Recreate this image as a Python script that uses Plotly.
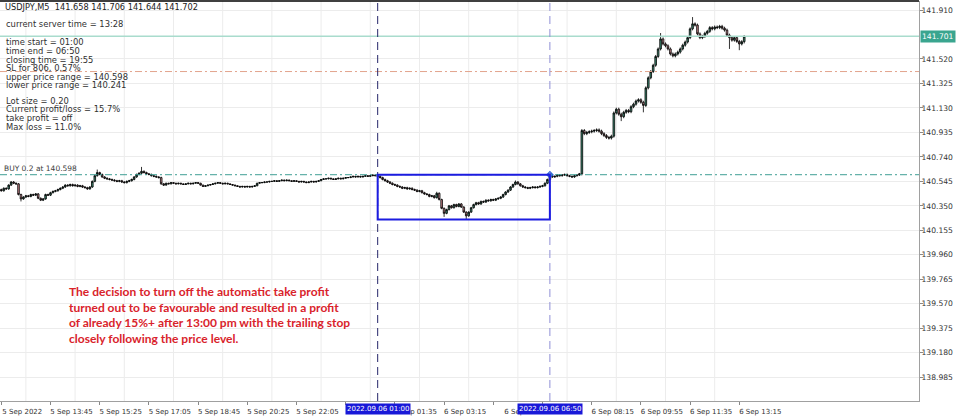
import pandas as pd
import plotly.graph_objects as go

# ---------------- data ----------------
bar_times = [t.strftime("%Y.%m.%d %H:%M") for t in
             list(pd.date_range("2022-09-05 12:05", "2022-09-05 23:50", freq="5min")) +
             list(pd.date_range("2022-09-06 00:05", "2022-09-06 13:25", freq="5min"))]

opens = [
    140.480, 140.470, 140.490, 140.485, 140.515, 140.540, 140.530, 140.525, 140.440, 140.405,
    140.420, 140.430, 140.425, 140.440, 140.435, 140.445, 140.410, 140.395, 140.405, 140.440,
    140.435, 140.455, 140.465, 140.470, 140.480, 140.490, 140.500, 140.515, 140.510, 140.520,
    140.510, 140.515, 140.505, 140.510, 140.500, 140.495, 140.485, 140.500, 140.545, 140.590,
    140.615, 140.600, 140.580, 140.570, 140.565, 140.560, 140.555, 140.550, 140.545, 140.550,
    140.540, 140.535, 140.545, 140.550, 140.560, 140.580, 140.600, 140.610, 140.625, 140.615,
    140.605, 140.600, 140.590, 140.585, 140.580, 140.575, 140.525, 140.515, 140.530, 140.525,
    140.535, 140.530, 140.525, 140.530, 140.525, 140.520, 140.525, 140.530, 140.525, 140.530,
    140.535, 140.530, 140.515, 140.505, 140.510, 140.515, 140.520, 140.525, 140.530, 140.535,
    140.530, 140.525, 140.530, 140.525, 140.520, 140.515, 140.510, 140.505, 140.500, 140.505,
    140.500, 140.505, 140.500, 140.505, 140.510, 140.530, 140.535, 140.535, 140.540, 140.540,
    140.545, 140.545, 140.550, 140.545, 140.550, 140.555, 140.550, 140.555, 140.550, 140.545,
    140.550, 140.545, 140.540, 140.545, 140.540, 140.535, 140.540, 140.545, 140.540, 140.545,
    140.550, 140.560, 140.565, 140.565, 140.570, 140.565, 140.560, 140.565, 140.570, 140.565,
    140.570, 140.575, 140.575, 140.580, 140.585, 140.580, 140.585, 140.580, 140.585, 140.590,
    140.585, 140.590, 140.595, 140.590, 140.585, 140.575, 140.560, 140.550, 140.540, 140.530,
    140.520, 140.515, 140.505, 140.500, 140.490, 140.495, 140.485, 140.490, 140.480, 140.475,
    140.465, 140.470, 140.455, 140.445, 140.440, 140.425, 140.430, 140.415, 140.450, 140.400,
    140.330, 140.290, 140.320, 140.350, 140.335, 140.360, 140.345, 140.365, 140.340, 140.300,
    140.270, 140.300, 140.335, 140.360, 140.375, 140.365, 140.385, 140.380, 140.395, 140.390,
    140.400, 140.395, 140.405, 140.410, 140.420, 140.440, 140.460, 140.475, 140.500, 140.520,
    140.540, 140.525, 140.510, 140.500, 140.495, 140.490, 140.495, 140.500, 140.495, 140.500,
    140.505, 140.510, 140.530, 140.560, 140.590, 140.580, 140.585, 140.595, 140.590, 140.595,
    140.600, 140.590, 140.585, 140.580, 140.590, 140.595, 140.605, 140.950, 140.925, 140.935,
    140.940, 140.945, 140.950, 140.955, 140.945, 140.925, 140.910, 140.895, 140.890, 140.905,
    141.090, 141.120, 141.080, 141.060, 141.095, 141.110, 141.100, 141.140, 141.160, 141.185,
    141.195, 141.175, 141.150, 141.290, 141.370, 141.420, 141.470, 141.540, 141.600, 141.680,
    141.640, 141.625, 141.600, 141.560, 141.545, 141.560, 141.575, 141.600, 141.630, 141.655,
    141.690, 141.760, 141.800, 141.790, 141.720, 141.690, 141.700, 141.725, 141.740, 141.770,
    141.760, 141.775, 141.770, 141.780, 141.765, 141.750, 141.710, 141.690, 141.670, 141.690,
    141.660, 141.640, 141.658,
]

highs = [
    140.487, 140.497, 140.497, 140.522, 140.547, 140.547, 140.537, 140.532, 140.447, 140.427,
    140.437, 140.437, 140.447, 140.447, 140.452, 140.452, 140.417, 140.412, 140.447, 140.447,
    140.462, 140.472, 140.477, 140.487, 140.497, 140.507, 140.522, 140.522, 140.527, 140.527,
    140.522, 140.522, 140.517, 140.517, 140.507, 140.502, 140.507, 140.552, 140.597, 140.639,
    140.622, 140.607, 140.587, 140.577, 140.572, 140.567, 140.562, 140.557, 140.557, 140.557,
    140.547, 140.552, 140.557, 140.567, 140.587, 140.607, 140.617, 140.660, 140.632, 140.622,
    140.612, 140.607, 140.597, 140.592, 140.587, 140.582, 140.532, 140.534, 140.534, 140.539,
    140.539, 140.534, 140.534, 140.534, 140.529, 140.529, 140.534, 140.534, 140.534, 140.539,
    140.539, 140.534, 140.519, 140.514, 140.519, 140.524, 140.529, 140.534, 140.539, 140.539,
    140.534, 140.534, 140.534, 140.529, 140.524, 140.519, 140.514, 140.509, 140.509, 140.509,
    140.509, 140.509, 140.509, 140.514, 140.534, 140.539, 140.539, 140.544, 140.544, 140.549,
    140.549, 140.554, 140.554, 140.554, 140.559, 140.559, 140.559, 140.559, 140.554, 140.554,
    140.554, 140.549, 140.549, 140.549, 140.544, 140.544, 140.549, 140.549, 140.549, 140.554,
    140.564, 140.569, 140.569, 140.574, 140.574, 140.569, 140.569, 140.574, 140.574, 140.574,
    140.579, 140.579, 140.584, 140.589, 140.589, 140.589, 140.589, 140.589, 140.594, 140.594,
    140.594, 140.599, 140.599, 140.596, 140.592, 140.582, 140.567, 140.557, 140.547, 140.537,
    140.527, 140.522, 140.512, 140.507, 140.502, 140.502, 140.497, 140.497, 140.487, 140.482,
    140.477, 140.477, 140.462, 140.452, 140.447, 140.437, 140.437, 140.462, 140.457, 140.407,
    140.337, 140.327, 140.357, 140.357, 140.367, 140.367, 140.372, 140.372, 140.347, 140.307,
    140.307, 140.342, 140.367, 140.382, 140.382, 140.392, 140.392, 140.402, 140.402, 140.407,
    140.407, 140.412, 140.417, 140.427, 140.447, 140.467, 140.482, 140.507, 140.527, 140.552,
    140.547, 140.532, 140.517, 140.507, 140.502, 140.502, 140.507, 140.507, 140.507, 140.512,
    140.517, 140.537, 140.567, 140.598, 140.597, 140.592, 140.602, 140.602, 140.602, 140.607,
    140.607, 140.597, 140.592, 140.597, 140.602, 140.612, 140.962, 140.962, 140.947, 140.952,
    140.957, 140.962, 140.967, 140.967, 140.957, 140.937, 140.922, 140.907, 140.917, 141.102,
    141.132, 141.132, 141.092, 141.107, 141.122, 141.122, 141.152, 141.172, 141.197, 141.207,
    141.207, 141.187, 141.302, 141.382, 141.432, 141.482, 141.552, 141.612, 141.727, 141.692,
    141.652, 141.637, 141.612, 141.572, 141.572, 141.587, 141.612, 141.642, 141.667, 141.702,
    141.772, 141.854, 141.812, 141.802, 141.732, 141.712, 141.737, 141.752, 141.782, 141.782,
    141.787, 141.787, 141.792, 141.792, 141.777, 141.762, 141.722, 141.702, 141.702, 141.702,
    141.672, 141.670, 141.706,
]

lows = [
    140.463, 140.463, 140.478, 140.478, 140.508, 140.523, 140.518, 140.433, 140.385, 140.398,
    140.413, 140.418, 140.418, 140.428, 140.428, 140.403, 140.388, 140.388, 140.398, 140.428,
    140.428, 140.448, 140.458, 140.463, 140.473, 140.483, 140.493, 140.503, 140.503, 140.503,
    140.503, 140.498, 140.498, 140.493, 140.488, 140.478, 140.478, 140.493, 140.538, 140.583,
    140.593, 140.573, 140.563, 140.558, 140.553, 140.548, 140.543, 140.538, 140.538, 140.533,
    140.528, 140.528, 140.538, 140.543, 140.553, 140.573, 140.593, 140.603, 140.608, 140.598,
    140.593, 140.583, 140.578, 140.573, 140.568, 140.518, 140.508, 140.511, 140.521, 140.521,
    140.526, 140.521, 140.521, 140.521, 140.516, 140.516, 140.521, 140.521, 140.521, 140.526,
    140.526, 140.511, 140.501, 140.501, 140.506, 140.511, 140.516, 140.521, 140.526, 140.526,
    140.521, 140.521, 140.521, 140.516, 140.511, 140.506, 140.501, 140.496, 140.496, 140.496,
    140.496, 140.496, 140.496, 140.501, 140.506, 140.526, 140.531, 140.531, 140.536, 140.536,
    140.541, 140.541, 140.541, 140.541, 140.546, 140.546, 140.546, 140.546, 140.541, 140.541,
    140.541, 140.536, 140.536, 140.536, 140.531, 140.531, 140.536, 140.536, 140.536, 140.541,
    140.546, 140.556, 140.561, 140.561, 140.561, 140.556, 140.556, 140.561, 140.561, 140.561,
    140.566, 140.571, 140.571, 140.576, 140.576, 140.576, 140.576, 140.576, 140.581, 140.581,
    140.581, 140.586, 140.586, 140.578, 140.568, 140.553, 140.543, 140.533, 140.523, 140.513,
    140.508, 140.498, 140.493, 140.483, 140.483, 140.478, 140.478, 140.473, 140.468, 140.458,
    140.458, 140.448, 140.438, 140.433, 140.418, 140.418, 140.408, 140.408, 140.393, 140.323,
    140.262, 140.283, 140.313, 140.328, 140.328, 140.338, 140.338, 140.333, 140.293, 140.241,
    140.263, 140.293, 140.328, 140.353, 140.358, 140.358, 140.373, 140.373, 140.383, 140.383,
    140.388, 140.388, 140.398, 140.403, 140.413, 140.433, 140.453, 140.468, 140.493, 140.513,
    140.518, 140.503, 140.493, 140.488, 140.483, 140.483, 140.488, 140.488, 140.488, 140.493,
    140.498, 140.503, 140.523, 140.553, 140.573, 140.573, 140.578, 140.583, 140.583, 140.588,
    140.583, 140.578, 140.573, 140.573, 140.583, 140.588, 140.593, 140.913, 140.913, 140.923,
    140.928, 140.933, 140.938, 140.933, 140.913, 140.898, 140.883, 140.878, 140.878, 140.893,
    141.078, 141.068, 141.025, 141.048, 141.083, 141.088, 141.088, 141.128, 141.148, 141.173,
    141.163, 141.095, 141.138, 141.278, 141.358, 141.408, 141.458, 141.528, 141.588, 141.628,
    141.613, 141.588, 141.548, 141.533, 141.533, 141.548, 141.563, 141.588, 141.618, 141.643,
    141.678, 141.748, 141.778, 141.708, 141.678, 141.678, 141.688, 141.713, 141.728, 141.748,
    141.748, 141.758, 141.758, 141.753, 141.738, 141.698, 141.600, 141.658, 141.658, 141.648,
    141.590, 141.628, 141.644,
]

closes = [
    140.470, 140.490, 140.485, 140.515, 140.540, 140.530, 140.525, 140.440, 140.405, 140.420,
    140.430, 140.425, 140.440, 140.435, 140.445, 140.410, 140.395, 140.405, 140.440, 140.435,
    140.455, 140.465, 140.470, 140.480, 140.490, 140.500, 140.515, 140.510, 140.520, 140.510,
    140.515, 140.505, 140.510, 140.500, 140.495, 140.485, 140.500, 140.545, 140.590, 140.615,
    140.600, 140.580, 140.570, 140.565, 140.560, 140.555, 140.550, 140.545, 140.550, 140.540,
    140.535, 140.545, 140.550, 140.560, 140.580, 140.600, 140.610, 140.625, 140.615, 140.605,
    140.600, 140.590, 140.585, 140.580, 140.575, 140.525, 140.515, 140.530, 140.525, 140.535,
    140.530, 140.525, 140.530, 140.525, 140.520, 140.525, 140.530, 140.525, 140.530, 140.535,
    140.530, 140.515, 140.505, 140.510, 140.515, 140.520, 140.525, 140.530, 140.535, 140.530,
    140.525, 140.530, 140.525, 140.520, 140.515, 140.510, 140.505, 140.500, 140.505, 140.500,
    140.505, 140.500, 140.505, 140.510, 140.530, 140.535, 140.535, 140.540, 140.540, 140.545,
    140.545, 140.550, 140.545, 140.550, 140.555, 140.550, 140.555, 140.550, 140.545, 140.550,
    140.545, 140.540, 140.545, 140.540, 140.535, 140.540, 140.545, 140.540, 140.545, 140.550,
    140.560, 140.565, 140.565, 140.570, 140.565, 140.560, 140.565, 140.570, 140.565, 140.570,
    140.575, 140.575, 140.580, 140.585, 140.580, 140.585, 140.580, 140.585, 140.590, 140.585,
    140.590, 140.595, 140.590, 140.585, 140.575, 140.560, 140.550, 140.540, 140.530, 140.520,
    140.515, 140.505, 140.500, 140.490, 140.495, 140.485, 140.490, 140.480, 140.475, 140.465,
    140.470, 140.455, 140.445, 140.440, 140.425, 140.430, 140.415, 140.450, 140.400, 140.330,
    140.290, 140.320, 140.350, 140.335, 140.360, 140.345, 140.365, 140.340, 140.300, 140.270,
    140.300, 140.335, 140.360, 140.375, 140.365, 140.385, 140.380, 140.395, 140.390, 140.400,
    140.395, 140.405, 140.410, 140.420, 140.440, 140.460, 140.475, 140.500, 140.520, 140.540,
    140.525, 140.510, 140.500, 140.495, 140.490, 140.495, 140.500, 140.495, 140.500, 140.505,
    140.510, 140.530, 140.560, 140.590, 140.580, 140.585, 140.595, 140.590, 140.595, 140.600,
    140.590, 140.585, 140.580, 140.590, 140.595, 140.605, 140.950, 140.925, 140.935, 140.940,
    140.945, 140.950, 140.955, 140.945, 140.925, 140.910, 140.895, 140.890, 140.905, 141.090,
    141.120, 141.080, 141.060, 141.095, 141.110, 141.100, 141.140, 141.160, 141.185, 141.195,
    141.175, 141.150, 141.290, 141.370, 141.420, 141.470, 141.540, 141.600, 141.680, 141.640,
    141.625, 141.600, 141.560, 141.545, 141.560, 141.575, 141.600, 141.630, 141.655, 141.690,
    141.760, 141.800, 141.790, 141.720, 141.690, 141.700, 141.725, 141.740, 141.770, 141.760,
    141.775, 141.770, 141.780, 141.765, 141.750, 141.710, 141.690, 141.670, 141.690, 141.660,
    141.640, 141.658, 141.702,
]

tick_times = ["2022.09.05 12:05", "2022.09.05 13:45", "2022.09.05 15:25", "2022.09.05 17:05",
              "2022.09.05 18:45", "2022.09.05 20:25", "2022.09.05 22:05", "2022.09.05 23:45",
              "2022.09.06 01:35", "2022.09.06 03:15", "2022.09.06 04:55", "2022.09.06 06:35",
              "2022.09.06 08:15", "2022.09.06 09:55", "2022.09.06 11:35", "2022.09.06 13:15"]
tick_labels = ["5 Sep 2022", "5 Sep 13:45", "5 Sep 15:25", "5 Sep 17:05", "5 Sep 18:45",
               "5 Sep 20:25", "5 Sep 22:05", "", "6 Sep 01:35", "6 Sep 03:15",
               "6 Sep", "", "6 Sep 08:15", "6 Sep 09:55", "6 Sep 11:35",
               "6 Sep 13:15"]
grid_times = ["2022.09.05 12:55", "2022.09.05 14:35", "2022.09.05 16:15", "2022.09.05 17:55",
              "2022.09.05 19:35", "2022.09.05 21:15", "2022.09.05 22:55", "2022.09.06 00:45",
              "2022.09.06 02:25", "2022.09.06 04:05", "2022.09.06 05:45", "2022.09.06 07:25",
              "2022.09.06 09:05", "2022.09.06 10:45", "2022.09.06 12:25"]

price_ticks = [141.910, 141.520, 141.325, 141.130, 140.935, 140.740, 140.545, 140.350,
               140.155, 139.960, 139.765, 139.570, 139.375, 139.180, 138.985]

range_start = "2022.09.06 01:00"
range_end = "2022.09.06 06:50"
upper_price = 140.598
lower_price = 140.241
buy_price = 140.598
sl_price = 141.420
current_price = 141.701

header_line = "USDJPY,M5  141.658 141.706 141.644 141.702"
info_lines = ["current server time = 13:28",
              "time start = 01:00",
              "time end = 06:50",
              "closing time = 19:55",
              "SL for 806, 0.57%",
              "upper price range = 140.598",
              "lower price range = 140.241",
              "Lot size = 0.20",
              "Current profit/loss = 15.7%",
              "take profit = off",
              "Max loss = 11.0%"]
info_y_px = [24, 41.7, 51, 60, 68.5, 77, 85.5, 100.7, 109, 118, 127.3]

note_text = ("The decision to turn off the automatic take profit<br>"
             "turned out to be favourable and resulted in a profit<br>"
             "of already 15%+ after 13:00 pm with the trailing stop<br>"
             "closely following the price level.")

# ---------------- figure ----------------
W, H = 960, 417
ML, MR, MT, MB = 0, 41, 1, 16
PH = H - MT - MB
PW = W - ML - MR

MTFONT = "DejaVu Sans, Verdana, sans-serif"
AXFONT = dict(family=MTFONT, size=7, color="#333333")
YFONT = dict(family=MTFONT, size=7.6, color="#333333")

fig = go.Figure()
fig.add_trace(go.Candlestick(
    x=bar_times, open=opens, high=highs, low=lows, close=closes,
    increasing=dict(line=dict(color="#000000", width=0.8), fillcolor="#3f8a72"),
    decreasing=dict(line=dict(color="#000000", width=0.8), fillcolor="#c7868b"),
    whiskerwidth=0, showlegend=False, name="USDJPY,M5",
))

# entry arrow
fig.add_trace(go.Scatter(x=[range_end], y=[buy_price], mode="markers",
                         marker=dict(symbol="diamond", size=6, color="#2a62d6"),
                         showlegend=False, hoverinfo="skip"))

shapes = []
for gt in grid_times:
    shapes.append(dict(type="line", xref="x", yref="paper", x0=bar_times.index(gt), x1=bar_times.index(gt),
                       y0=0, y1=1, line=dict(color="#ececec", width=1), layer="below"))
# horizontal lines
shapes.append(dict(type="line", xref="paper", x0=0, x1=1, yref="y", y0=current_price, y1=current_price,
                   line=dict(color="#a9dccd", width=1.5)))
shapes.append(dict(type="line", xref="paper", x0=0, x1=1, yref="y", y0=sl_price, y1=sl_price,
                   line=dict(color="#e3a58e", width=1, dash="7px,3px,2px,3px")))
shapes.append(dict(type="line", xref="paper", x0=0, x1=1, yref="y", y0=buy_price, y1=buy_price,
                   line=dict(color="#3f9f95", width=1, dash="7px,3px,2px,3px")))
# vertical range lines
i0 = bar_times.index(range_start)
i1 = bar_times.index(range_end)
shapes.append(dict(type="line", xref="x", x0=i0, x1=i0, yref="paper", y0=0, y1=1,
                   line=dict(color="#26266a", width=1, dash="8px,5px")))
shapes.append(dict(type="line", xref="x", x0=i1, x1=i1, yref="paper", y0=0, y1=1,
                   line=dict(color="#8f8fd6", width=1, dash="8px,5px")))
# range box
shapes.append(dict(type="rect", xref="x", x0=i0, x1=i1, yref="y", y0=lower_price, y1=upper_price,
                   line=dict(color="#1c1ce0", width=2), fillcolor="rgba(0,0,0,0)"))
# top frame
shapes.append(dict(type="line", xref="paper", x0=0, x1=1, yref="paper", y0=1, y1=1,
                   line=dict(color="#000000", width=1.5)))

annotations = []
annotations.append(dict(text=header_line, xref="paper", x=3 / PW, xanchor="left",
                        yref="paper", y=1 - (6.7 - MT) / PH, yanchor="middle", showarrow=False,
                        font=dict(family=MTFONT, size=8.2, color="#202020")))
for txt, ypx in zip(info_lines, info_y_px):
    annotations.append(dict(text=txt, xref="paper", x=4 / PW, xanchor="left",
                            yref="paper", y=1 - (ypx - MT) / PH, yanchor="middle", showarrow=False,
                            font=dict(family=MTFONT, size=8.4, color="#303030")))
annotations.append(dict(text=f"BUY 0.2 at {buy_price:.3f}", xref="paper", x=2 / PW,
                        xanchor="left", yref="y", y=buy_price, yanchor="bottom", yshift=0,
                        showarrow=False,
                        font=dict(family=MTFONT, size=7.5, color="#404040")))
annotations.append(dict(text=note_text, xref="paper", x=67 / PW, xanchor="left",
                        yref="paper", y=1 - (282 - MT) / PH, yanchor="top", align="left",
                        showarrow=False,
                        font=dict(family="Lato, sans-serif", size=12, color="#d9232b", weight="bold")))
annotations.append(dict(text=f"{current_price:.3f}", xref="paper", x=1, xanchor="left", xshift=1,
                        yref="y", y=current_price, yanchor="middle", showarrow=False,
                        bgcolor="#3aa58f", borderpad=1,
                        font=dict(family=MTFONT, size=7.6, color="#ffffff")))
for t in (range_start, range_end):
    annotations.append(dict(text=t, xref="x", x=bar_times.index(t), xanchor="center",
                            yref="paper", y=0, yanchor="top", yshift=-2, showarrow=False,
                            bgcolor="#1818d8", borderpad=1,
                            font=dict(family=MTFONT, size=7, color="#ffffff")))

fig.update_layout(
    width=W, height=H,
    margin=dict(l=ML, r=MR, t=MT, b=MB, pad=0),
    paper_bgcolor="#ffffff", plot_bgcolor="#ffffff",
    showlegend=False,
    boxgap=0.05,
    shapes=shapes, annotations=annotations,
    xaxis=dict(type="category", categoryorder="array", categoryarray=bar_times,
               range=[-0.53, 373.05], rangeslider=dict(visible=False),
               tickmode="array", tickvals=tick_times, ticktext=tick_labels,
               ticks="outside", ticklen=3, tickcolor="#888888", ticklabelshift=21,
               ticklabelstandoff=1,
               showline=True, linecolor="#a0a0a0", linewidth=1,
               showgrid=False, zeroline=False, tickfont=AXFONT, fixedrange=True),
    yaxis=dict(side="right", range=[138.795, 141.982],
               tickmode="array", tickvals=price_ticks, ticktext=[f"{p:.3f}" for p in price_ticks],
               ticks="outside", ticklen=3, tickcolor="#888888", ticklabelstandoff=-3,
               showline=True, linecolor="#a0a0a0", linewidth=1,
               showgrid=True, gridcolor="#ececec", gridwidth=1, zeroline=False,
               tickfont=YFONT, fixedrange=True),
)

fig.write_html("out.html", config={"displayModeBar": False},
               post_script="document.body.style.margin='0';document.body.style.overflow='hidden';")
